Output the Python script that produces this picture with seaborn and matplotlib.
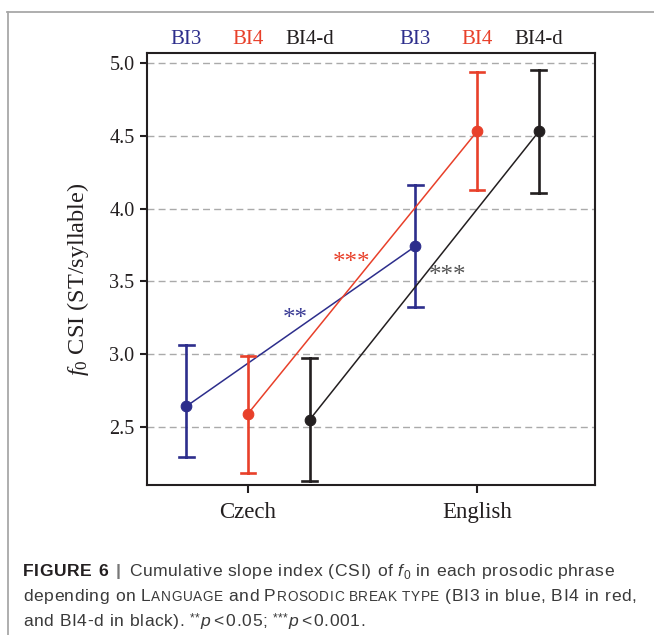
import numpy as np
import pandas as pd
import matplotlib
matplotlib.use("Agg")
import matplotlib.pyplot as plt
import seaborn as sns
from matplotlib.transforms import IdentityTransform
from matplotlib.lines import Line2D
from matplotlib.textpath import TextPath
from matplotlib.font_manager import FontProperties

# ---------------- data ----------------
languages = ["Czech", "English"]
break_types = ["BI3", "BI4", "BI4-d"]
mean_bi3 = [2.64, 3.74]
mean_bi4 = [2.59, 4.53]
mean_bi4d = [2.55, 4.53]
low_bi3 = [2.29, 3.32]
low_bi4 = [2.18, 4.13]
low_bi4d = [2.13, 4.11]
high_bi3 = [3.06, 4.16]
high_bi4 = [2.99, 4.94]
high_bi4d = [2.97, 4.95]
y_ticks = [2.5, 3.0, 3.5, 4.0, 4.5, 5.0]
sig_labels = ["**", "***", "***"]
sig_types = ["BI3", "BI4", "BI4-d"]

colors = {"BI3": "#2d2e8c", "BI4": "#e8402a", "BI4-d": "#231f20"}
sig_colors = {"BI3": "#3a3b95", "BI4": "#e8402a", "BI4-d": "#555555"}

means = {"BI3": mean_bi3, "BI4": mean_bi4, "BI4-d": mean_bi4d}
lows = {"BI3": low_bi3, "BI4": low_bi4, "BI4-d": low_bi4d}
highs = {"BI3": high_bi3, "BI4": high_bi4, "BI4-d": high_bi4d}

rows = []
for bt in break_types:
    for i, lang in enumerate(languages):
        for v in (lows[bt][i], means[bt][i], highs[bt][i]):
            rows.append({"language": lang, "break_type": bt, "csi": v})
df = pd.DataFrame(rows)

# ---------------- style ----------------
plt.rcParams["font.family"] = ["Liberation Serif", "DejaVu Serif"]
plt.rcParams["mathtext.fontset"] = "custom"
plt.rcParams["mathtext.rm"] = "Liberation Serif"
plt.rcParams["mathtext.it"] = "Liberation Serif:italic"

W, H = 654, 635
fig = plt.figure(figsize=(W / 100, H / 100), dpi=100)
fig.patch.set_facecolor("white")

L, R, T, B = 147, 595, 53, 485
ax = fig.add_axes([L / W, (H - B) / H, (R - L) / W, (B - T) / H])

dodge = 0.54
sns.pointplot(
    data=df, x="language", y="csi", hue="break_type",
    order=languages, hue_order=break_types, palette=colors,
    estimator="median", errorbar=lambda v: (v.min(), v.max()),
    dodge=dodge, markers="o", linestyles="-", capsize=0.065,
    err_kws={"linewidth": 1.9}, linewidth=1.1, markersize=7.6,
    legend=False, ax=ax,
)

ax.set_xlim(-0.441, 1.515)
ax.set_ylim(2.10, 5.069)
ax.set_yticks(y_ticks)
ax.set_yticklabels([f"{t:.1f}" for t in y_ticks])
ax.yaxis.grid(True, linestyle=(0, (5, 3)), color="#aaaaaa", linewidth=1.0)
ax.xaxis.grid(False)
ax.set_axisbelow(True)
for s in ax.spines.values():
    s.set_linewidth(1.5)
    s.set_color("#231f20")
ax.tick_params(axis="y", length=5, width=1.5, pad=4, labelsize=14.5, colors="#231f20")
ax.tick_params(axis="x", length=6, width=1.5, pad=6, labelsize=16.5, colors="#231f20")
ax.set_xlabel("")
ax.set_ylabel(r"$f_0$ CSI (ST/syllable)", fontsize=17.5, color="#231f20")
ax.yaxis.set_label_coords(-0.125, 0.475)

# top labels above each dodged point
offsets = np.linspace(-dodge / 2, dodge / 2, len(break_types))
for i, lang in enumerate(languages):
    for j, bt in enumerate(break_types):
        ax.text(i + offsets[j], 1.021, bt, transform=ax.get_xaxis_transform(),
                ha="center", va="baseline", fontsize=15, color=colors[bt])

# significance markers
sig_pos = [(0.205, 3.24), (0.454, 3.625), (0.873, 3.535)]
for lab, bt, (sx, sy) in zip(sig_labels, sig_types, sig_pos):
    ax.text(sx, sy, lab, ha="center", va="center", fontsize=18,
            color=sig_colors[bt])

# ---------------- frame border ----------------
fig.add_artist(Line2D([7 / W, 1], [(H - 12) / H] * 2, transform=fig.transFigure,
                      color="#a8a8a8", linewidth=1.3))
fig.add_artist(Line2D([8 / W] * 2, [(H - 12) / H, 0], transform=fig.transFigure,
                      color="#a8a8a8", linewidth=1.3))

# ---------------- caption (letter-spaced rich text) ----------------
cap_col = "#3a3a3a"
SANS = "Liberation Sans"
FS = 12.6  # pt


def adv(ch, size_pt, weight, style):
    """advance width in pixels of a character"""
    fp = FontProperties(family=SANS, weight=weight, style=style, size=size_pt)
    if ch == " ":
        w2 = TextPath((0, 0), "n n", prop=fp).get_extents().width
        w1 = TextPath((0, 0), "nn", prop=fp).get_extents().width
        return (w2 - w1) * 100 / 72.0
    w2 = TextPath((0, 0), "n" + ch + "n", prop=fp).get_extents().width
    w1 = TextPath((0, 0), "nn", prop=fp).get_extents().width
    return (w2 - w1) * 100 / 72.0


def layout(runs, track, draw=False, x0=23, y_base=0):
    x = x0
    for text, kw, dy, gap in runs:
        size = FS * kw.get("fontsize", 1.0)
        weight = kw.get("weight", "normal")
        style = kw.get("style", "normal")
        color = kw.get("color", cap_col)
        x += gap * adv(" ", FS, "normal", "normal")
        for ch in text:
            if draw and ch != " ":
                fig.text(x, H - (y_base + dy), ch, transform=IdentityTransform(),
                         ha="left", va="baseline", fontsize=size,
                         family=SANS, weight=weight, style=style, color=color)
            x += adv(ch, size, weight, style) + track
    return x


line1 = [
    ("FIGURE 6", {"weight": "bold", "color": "#231f20"}, 0, 0),
    ("|", {"weight": "bold", "color": "#777777"}, 0, 1.6),
    ("Cumulative slope index (CSI) of", {}, 0, 1.6),
    ("f", {"style": "italic"}, 0, 1),
    ("0", {"fontsize": 0.68}, 3, 0.1),
    ("in each prosodic phrase", {}, 0, 1),
]
line2 = [
    ("depending on", {}, 0, 0),
    ("L", {}, 0, 1),
    ("ANGUAGE", {"fontsize": 0.78}, 0, 0.05),
    ("and", {}, 0, 1),
    ("P", {}, 0, 1),
    ("ROSODIC BREAK TYPE", {"fontsize": 0.78}, 0, 0.05),
    ("(BI3 in blue, BI4 in red,", {}, 0, 1),
]
line3 = [
    ("and BI4-d in black).", {}, 0, 0),
    ("**", {"fontsize": 0.68}, -5, 1),
    ("p", {"style": "italic"}, 0, 0.1),
    ("<", {}, 0, 0.4),
    ("0.05;", {}, 0, 0.4),
    ("***", {"fontsize": 0.68}, -5, 1),
    ("p", {"style": "italic"}, 0, 0.1),
    ("<", {}, 0, 0.4),
    ("0.001.", {}, 0, 0.4),
]

# choose letter spacing so the second line ends where it does in the figure
n2 = sum(len(r[0]) for r in line2)
end0 = layout(line2, 0.0)
track = max(0.0, (637 - end0) / n2)

layout(line1, track, draw=True, y_base=576)
layout(line2, track, draw=True, y_base=601)
layout(line3, track, draw=True, y_base=626)

fig.savefig("out.png", dpi=100, facecolor="white")
